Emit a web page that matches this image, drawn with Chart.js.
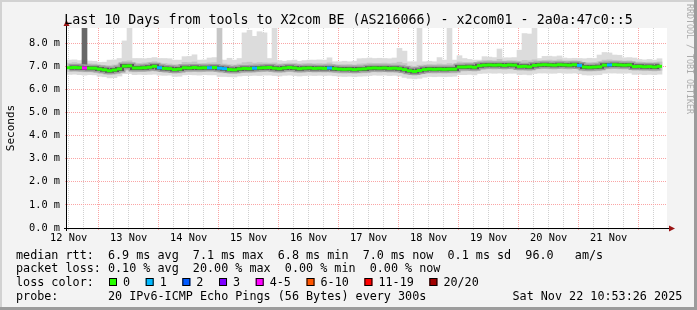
<!DOCTYPE html>
<html>
<head>
<meta charset="utf-8">
<script src="https://cdn.jsdelivr.net/npm/chart.js@4.4.1/dist/chart.umd.min.js"></script>
<style>
  html, body { margin: 0; padding: 0; background: #f3f3f3; }
</style>
</head>
<body>
<canvas id="myChart" width="697" height="310"></canvas>
<script>
// time axis: hours after 12 Nov 00:00, one bin = 2 hours
const startHour = 11.32;
const binHours = 2;
const dayLabels = ['12 Nov', '13 Nov', '14 Nov', '15 Nov', '16 Nov', '17 Nov', '18 Nov', '19 Nov', '20 Nov', '21 Nov'];

// median rtt per bin (ms)
const median = [
  6.94, 6.95, 6.94, 6.93, 6.92, 6.92, 6.88, 6.85, 6.81, 6.84,
  6.89, 7.01, 7.02, 6.93, 6.93, 6.94, 6.96, 7.00, 6.94, 6.91,
  6.90, 6.86, 6.88, 6.94, 6.93, 6.95, 6.93, 6.94, 6.94, 6.95,
  6.92, 6.90, 6.86, 6.85, 6.89, 6.91, 6.90, 6.92, 6.93, 6.94,
  6.95, 6.92, 6.90, 6.93, 6.95, 6.93, 6.90, 6.92, 6.93, 6.91,
  6.92, 6.91, 6.93, 6.90, 6.88, 6.87, 6.88, 6.86, 6.88, 6.89,
  6.92, 6.93, 6.92, 6.93, 6.91, 6.92, 6.90, 6.86, 6.81, 6.78,
  6.82, 6.86, 6.88, 6.87, 6.88, 6.87, 6.88, 6.88, 6.97, 6.97,
  6.98, 6.96, 7.03, 7.05, 7.06, 7.05, 7.06, 7.04, 7.06, 7.05,
  6.99, 7.00, 6.98, 7.04, 7.06, 7.07, 7.06, 7.05, 7.07, 7.06,
  7.05, 7.07, 7.04, 6.97, 6.96, 6.97, 6.98, 7.05, 7.06, 7.07,
  7.06, 7.05, 7.06, 6.99, 7.00, 6.98, 6.99, 6.97, 7.00
];

// middle smoke layer
const midHi = [
  7.14, 7.16, 7.13, 7.12, 7.11, 7.10, 7.05, 7.04, 7.03, 7.06,
  7.10, 7.22, 7.24, 7.14, 7.13, 7.15, 7.17, 7.20, 7.14, 7.12,
  7.10, 7.07, 7.08, 7.17, 7.16, 7.19, 7.12, 7.13, 7.15, 7.16,
  7.12, 7.10, 7.07, 7.06, 7.10, 7.16, 7.18, 7.14, 7.16, 7.15,
  7.14, 7.15, 7.10, 7.12, 7.14, 7.13, 7.10, 7.12, 7.13, 7.11,
  7.12, 7.11, 7.15, 7.08, 7.07, 7.07, 7.08, 7.06, 7.10, 7.11,
  7.14, 7.13, 7.13, 7.14, 7.12, 7.14, 7.18, 7.12, 7.02, 7.00,
  7.05, 7.06, 7.08, 7.07, 7.10, 7.08, 7.12, 7.08, 7.19, 7.17,
  7.17, 7.16, 7.22, 7.25, 7.26, 7.24, 7.30, 7.23, 7.25, 7.24,
  7.22, 7.26, 7.24, 7.28, 7.24, 7.26, 7.27, 7.25, 7.28, 7.24,
  7.24, 7.25, 7.23, 7.17, 7.16, 7.17, 7.20, 7.27, 7.28, 7.26,
  7.25, 7.23, 7.24, 7.18, 7.19, 7.17, 7.18, 7.16, 7.19
];
const midLo = [
  6.78, 6.79, 6.78, 6.76, 6.76, 6.75, 6.71, 6.68, 6.64, 6.67,
  6.72, 6.83, 6.84, 6.76, 6.77, 6.77, 6.79, 6.82, 6.77, 6.74,
  6.73, 6.69, 6.71, 6.77, 6.76, 6.78, 6.76, 6.77, 6.77, 6.78,
  6.74, 6.72, 6.69, 6.68, 6.72, 6.74, 6.73, 6.75, 6.76, 6.77,
  6.78, 6.75, 6.73, 6.76, 6.78, 6.76, 6.73, 6.75, 6.76, 6.74,
  6.75, 6.74, 6.76, 6.73, 6.71, 6.70, 6.71, 6.69, 6.71, 6.72,
  6.75, 6.76, 6.75, 6.76, 6.74, 6.75, 6.73, 6.69, 6.64, 6.61,
  6.65, 6.69, 6.71, 6.70, 6.71, 6.70, 6.71, 6.71, 6.80, 6.80,
  6.81, 6.79, 6.86, 6.88, 6.89, 6.88, 6.89, 6.87, 6.89, 6.88,
  6.82, 6.83, 6.81, 6.87, 6.89, 6.90, 6.89, 6.88, 6.90, 6.89,
  6.88, 6.90, 6.87, 6.80, 6.79, 6.80, 6.81, 6.88, 6.89, 6.90,
  6.89, 6.88, 6.89, 6.82, 6.83, 6.81, 6.82, 6.80, 6.83
];

// outer smoke layer (includes the slow pings)
const outerHi = [
  7.27, 7.28, 7.25, 7.30, 7.23, 7.22, 7.17, 7.18, 7.27, 7.28,
  7.34, 8.10, 8.66, 7.34, 7.34, 7.33, 7.35, 7.38, 7.34, 7.34,
  7.33, 7.27, 7.27, 7.42, 7.43, 7.50, 7.27, 7.28, 7.36, 7.38,
  7.30, 7.27, 7.35, 7.27, 7.34, 8.45, 8.56, 8.30, 8.50, 8.45,
  7.34, 8.66, 7.25, 7.22, 7.25, 7.27, 7.22, 7.25, 7.27, 7.27,
  7.28, 7.27, 7.37, 7.20, 7.20, 7.22, 7.20, 7.22, 7.33, 7.34,
  7.36, 7.34, 7.35, 7.34, 7.33, 7.36, 7.78, 7.66, 7.20, 7.20,
  8.66, 7.20, 7.22, 7.20, 7.38, 7.27, 8.66, 7.27, 7.46, 7.34,
  7.30, 7.27, 7.27, 7.42, 7.40, 7.38, 7.75, 7.37, 7.37, 7.38,
  7.70, 8.42, 8.40, 8.66, 7.34, 7.43, 7.44, 7.42, 7.45, 7.36,
  7.34, 7.35, 7.34, 7.33, 7.35, 7.34, 7.49, 7.60, 7.58, 7.49,
  7.48, 7.37, 7.38, 7.36, 7.30, 7.28, 7.30, 7.27, 7.33
];
const outerLo = [
  6.65, 6.66, 6.64, 6.62, 6.64, 6.63, 6.57, 6.55, 6.50, 6.51,
  6.58, 6.68, 6.69, 6.64, 6.65, 6.64, 6.65, 6.66, 6.62, 6.61,
  6.62, 6.56, 6.57, 6.63, 6.64, 6.63, 6.62, 6.64, 6.63, 6.63,
  6.56, 6.56, 6.55, 6.54, 6.58, 6.60, 6.60, 6.61, 6.60, 6.62,
  6.62, 6.60, 6.58, 6.61, 6.62, 6.60, 6.58, 6.60, 6.61, 6.60,
  6.61, 6.60, 6.61, 6.59, 6.57, 6.56, 6.57, 6.55, 6.57, 6.58,
  6.60, 6.62, 6.61, 6.62, 6.60, 6.61, 6.58, 6.52, 6.48, 6.46,
  6.48, 6.53, 6.56, 6.55, 6.56, 6.55, 6.56, 6.57, 6.64, 6.64,
  6.65, 6.63, 6.69, 6.70, 6.71, 6.70, 6.71, 6.69, 6.70, 6.70,
  6.64, 6.65, 6.63, 6.69, 6.71, 6.71, 6.70, 6.70, 6.72, 6.70,
  6.70, 6.71, 6.68, 6.63, 6.62, 6.63, 6.64, 6.70, 6.71, 6.71,
  6.70, 6.70, 6.71, 6.65, 6.66, 6.64, 6.65, 6.64, 6.66
];

// lost pings per bin (of 20)
const lossCount = [
  0, 0, 0, 4, 0, 0, 0, 0, 0, 0,
  0, 0, 0, 0, 0, 0, 0, 0, 1, 0,
  0, 0, 0, 0, 0, 0, 0, 0, 1, 0,
  1, 1, 0, 0, 0, 0, 0, 1, 0, 0,
  0, 0, 0, 0, 0, 0, 0, 0, 0, 0,
  0, 0, 1, 0, 0, 0, 0, 0, 0, 0,
  0, 0, 0, 0, 0, 0, 0, 0, 0, 0,
  0, 0, 0, 0, 0, 0, 0, 0, 0, 0,
  0, 0, 0, 0, 0, 0, 0, 0, 0, 0,
  0, 0, 0, 0, 0, 0, 0, 0, 0, 0,
  0, 0, 1, 0, 0, 0, 0, 0, 1, 0,
  0, 0, 0, 0, 0, 0, 0, 0, 0
];
// bins where the lost pings push the smoke to the top
const smokeToTopBins = [3, 30];

const lossLabels = ['0', '1', '2', '3', '4-5', '6-10', '11-19', '20/20'];
const lossUpper = [0, 1, 2, 3, 5, 10, 19, 20];
const lossColors = ['#26ff00', '#00b8ff', '#0059ff', '#7e00ff', '#ff00ff', '#ff5500', '#ff0000', '#a10000'];

const yTop = 8.66;
const W = 697, H = 310;
const mono = 'DejaVu Sans Mono';
const minorGrid = 'rgb(208,208,208)';
const majorGrid = 'rgb(250,165,165)';

function lossColor(n) {
  return lossColors[lossUpper.findIndex(u => n <= u)];
}

const binTime = median.map((_, i) => startHour + binHours * (i + 0.5));
const pts = arr => arr.map((v, i) => ({ x: binTime[i], y: v }));
const band = (lo, hi) => lo.map((v, i) => ({ x: binTime[i], y: [v, hi[i]] }));

const rrdFrame = {
  id: 'rrdFrame',
  beforeDraw(chart) {
    const { ctx, chartArea: a } = chart;
    ctx.save();
    ctx.fillStyle = '#f3f3f3';
    ctx.fillRect(0, 0, W, H);
    ctx.fillStyle = '#d2d2d2';
    ctx.fillRect(0, 0, W, 2);
    ctx.fillRect(0, 0, 2, H);
    ctx.fillStyle = '#9c9c9c';
    ctx.fillRect(0, H - 3, W, 3);
    ctx.fillRect(W - 3, 0, 3, H);
    ctx.fillStyle = '#ffffff';
    ctx.fillRect(a.left, a.top, a.right - a.left, a.bottom - a.top);
    ctx.restore();
  },
  afterDraw(chart) {
    const { ctx, chartArea: a } = chart;
    ctx.save();
    // axes
    ctx.strokeStyle = '#000';
    ctx.lineWidth = 1;
    ctx.beginPath();
    ctx.moveTo(a.left - 3, a.bottom + 0.5);
    ctx.lineTo(a.right + 3, a.bottom + 0.5);
    ctx.moveTo(a.left - 0.5, a.bottom + 3);
    ctx.lineTo(a.left - 0.5, a.top - 3);
    ctx.stroke();
    ctx.fillStyle = '#9a1414';
    ctx.beginPath();
    ctx.moveTo(a.right + 2, a.bottom - 2.5);
    ctx.lineTo(a.right + 2, a.bottom + 3.5);
    ctx.lineTo(a.right + 8, a.bottom + 0.5);
    ctx.closePath();
    ctx.fill();
    ctx.beginPath();
    ctx.moveTo(a.left - 3.5, a.top - 2);
    ctx.lineTo(a.left + 2.5, a.top - 2);
    ctx.lineTo(a.left - 0.5, a.top - 8);
    ctx.closePath();
    ctx.fill();

    // title
    ctx.fillStyle = '#000';
    ctx.font = '13.3px "' + mono + '"';
    ctx.textAlign = 'center';
    ctx.textBaseline = 'alphabetic';
    ctx.fillText('Last 10 Days from tools to X2com BE (AS216066) - x2com01 - 2a0a:47c0::5', W / 2, 24);

    // y axis title
    ctx.save();
    ctx.translate(11, (a.top + a.bottom) / 2);
    ctx.rotate(-Math.PI / 2);
    ctx.font = '11px "' + mono + '"';
    ctx.textBaseline = 'middle';
    ctx.fillText('Seconds', 0, 0);
    ctx.restore();

    // watermark
    ctx.save();
    ctx.translate(689.5, 4);
    ctx.rotate(Math.PI / 2);
    ctx.font = '8.3px "' + mono + '"';
    ctx.fillStyle = '#ababab';
    ctx.textAlign = 'left';
    ctx.textBaseline = 'middle';
    ctx.fillText('RRDTOOL / TOBI OETIKER', 0, 0);
    ctx.restore();

    // legend
    ctx.font = '11.75px "' + mono + '"';
    ctx.textAlign = 'left';
    ctx.fillStyle = '#000';
    ctx.fillText('median rtt:  6.9 ms avg  7.1 ms max  6.8 ms min  7.0 ms now  0.1 ms sd  96.0   am/s', 16, 258.5);
    ctx.fillText('packet loss: 0.10 % avg  20.00 % max  0.00 % min  0.00 % now', 16, 272.2);
    ctx.fillText('loss color:', 16, 285.9);
    let bx = 109;
    lossLabels.forEach((lab, k) => {
      ctx.fillStyle = lossColors[k];
      ctx.fillRect(bx, 278, 8, 8);
      ctx.strokeStyle = '#000';
      ctx.strokeRect(bx + 0.5, 278.5, 7, 7);
      ctx.fillStyle = '#000';
      ctx.fillText(lab, bx + 14, 285.9);
      bx += 14 + ctx.measureText(lab).width + 15.6;
    });
    ctx.fillText('probe:       20 IPv6-ICMP Echo Pings (56 Bytes) every 300s', 16, 299.6);
    ctx.fillText('Sat Nov 22 10:53:26 2025', 512.5, 299.6);
    ctx.restore();
  }
};

const config = {
  type: 'bar',
  data: {
    datasets: [
      {
        type: 'line',
        label: 'median',
        data: pts(median),
        showLine: false,
        pointStyle: 'line',
        pointRadius: 2.5,
        pointBorderWidth: 3,
        pointBorderColor: lossCount.map(lossColor),
        pointBackgroundColor: lossCount.map(lossColor),
        pointHoverRadius: 2.5,
        order: 0
      },
      {
        type: 'line',
        label: 'core',
        data: pts(median),
        stepped: 'middle',
        borderColor: '#5a5a5a',
        borderWidth: 4,
        pointRadius: 0,
        order: 1
      },
      {
        type: 'line',
        label: 'inner',
        data: pts(median),
        stepped: 'middle',
        borderColor: '#9e9e9e',
        borderWidth: 7,
        pointRadius: 0,
        order: 2
      },
      {
        label: 'lost',
        data: smokeToTopBins.map(i => ({ x: binTime[i], y: [median[i], yTop] })),
        backgroundColor: smokeToTopBins.map(i => lossCount[i] >= 4 ? '#686868' : '#c6c6c6'),
        order: 3
      },
      {
        label: 'mid smoke',
        data: band(midLo, midHi),
        backgroundColor: '#c4c4c4',
        order: 4
      },
      {
        label: 'outer smoke',
        data: band(outerLo, outerHi),
        backgroundColor: '#dcdcdc',
        order: 5
      }
    ]
  },
  options: {
    responsive: false,
    animation: false,
    events: [],
    layout: { padding: { left: 0, top: 28, right: 30, bottom: 0 } },
    font: { family: mono },
    datasets: {
      bar: { barThickness: 5, grouped: false, borderWidth: 0 }
    },
    plugins: {
      legend: { display: false },
      title: { display: false },
      tooltip: { enabled: false }
    },
    scales: {
      x: {
        type: 'linear',
        min: startHour,
        max: startHour + 240,
        offset: false,
        afterBuildTicks: s => {
          s.ticks = [];
          for (let h = 12; h < s.max; h += 6) s.ticks.push({ value: h });
        },
        afterFit: s => { s.height = 82; },
        grid: {
          offset: false,
          color: c => (c.tick && c.tick.value % 24 === 0) ? majorGrid : minorGrid,
          tickColor: c => (c.tick && c.tick.value % 24 === 0) ? majorGrid : minorGrid,
          tickLength: 2
        },
        border: { display: false, dash: [1, 1] },
        ticks: {
          autoSkip: false,
          maxRotation: 0,
          padding: 2,
          color: '#000',
          font: { family: mono, size: 10.3 },
          callback: v => (v % 24 === 12) ? (dayLabels[(v - 12) / 24] || '') : ''
        }
      },
      y: {
        min: 0,
        max: yTop,
        afterBuildTicks: s => {
          s.ticks = [];
          for (let v = 0; v <= 8.5; v += 0.5) s.ticks.push({ value: v });
        },
        afterFit: s => { s.width = 67; },
        grid: {
          color: c => (c.tick && Number.isInteger(c.tick.value)) ? majorGrid : minorGrid,
          tickColor: c => (c.tick && Number.isInteger(c.tick.value)) ? majorGrid : minorGrid,
          tickLength: 2
        },
        border: { display: false, dash: [1, 1] },
        ticks: {
          padding: 5,
          color: '#000',
          font: { family: mono, size: 10.3 },
          callback: v => Number.isInteger(v) ? v.toFixed(1) + ' m' : ''
        }
      }
    }
  },
  plugins: [rrdFrame]
};

var myChart = new Chart(document.getElementById('myChart'), config);
</script>
</body>
</html>
